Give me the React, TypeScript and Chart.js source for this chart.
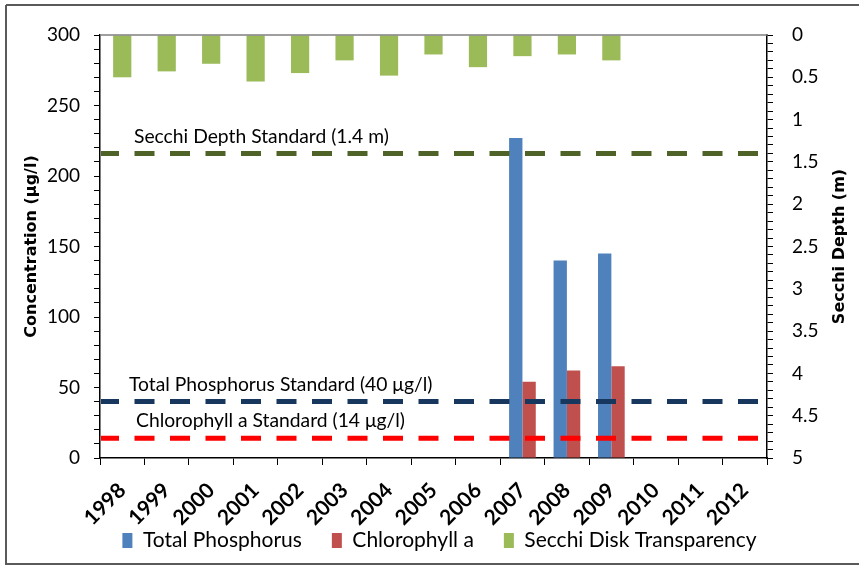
import React, { useEffect, useRef } from 'react';
import { Chart, registerables } from 'chart.js';

Chart.register(...registerables);

const years = ['1998', '1999', '2000', '2001', '2002', '2003', '2004', '2005', '2006', '2007', '2008', '2009', '2010', '2011', '2012'];
const totalPhosphorus = [null, null, null, null, null, null, null, null, null, 227, 140, 145, null, null, null];
const chlorophyllA = [null, null, null, null, null, null, null, null, null, 54, 62, 65, null, null, null];
const secchiDepth = [0.5, 0.43, 0.34, 0.55, 0.45, 0.3, 0.48, 0.23, 0.38, 0.25, 0.23, 0.3, null, null, null];
const seriesNames = ['Total Phosphorus', 'Chlorophyll a', 'Secchi Disk Transparency'];
const standardLabels = ['Secchi Depth Standard (1.4 m)', 'Total Phosphorus Standard (40 μg/l)', 'Chlorophyll a Standard (14 μg/l)'];
const standardValues = [1.4, 40, 14];
const standardAxisIds = ['y2', 'y', 'y'];
const concentrationRange = [0, 300];
const depthRange = [0, 5];
const leftTitle = 'Concentration (μg/l)';
const rightTitle = 'Secchi Depth (m)';

const standardColors = ['#4f6228', '#17375e', '#ff0000'];
const standardLabelX = [34, 29, 36];
const TEXT_FONT = 'Lato, "Liberation Sans", sans-serif';
const TITLE_FONT = '"DejaVu Sans", Verdana, sans-serif';

const decorPlugin = {
  id: 'decor',
  afterLayout(chart: any) {
    if (chart.legend) {
      chart.legend.left += 10;
      chart.legend.right += 10;
      chart.legend.top -= 28;
      chart.legend.bottom -= 28;
    }
  },
  beforeDraw(chart: any) {
    const { ctx, width, height } = chart;
    ctx.save();
    ctx.fillStyle = '#ffffff';
    ctx.fillRect(0, 0, width, height);
    ctx.strokeStyle = '#5a5a5a';
    ctx.lineWidth = 2;
    ctx.beginPath();
    ctx.moveTo(6, 5);
    ctx.lineTo(width, 5);
    ctx.moveTo(6, 5);
    ctx.lineTo(6, 564);
    ctx.lineTo(width, 564);
    ctx.stroke();
    ctx.restore();
  },
  afterDatasetsDraw(chart: any) {
    const { ctx, chartArea } = chart;
    standardValues.forEach((v, i) => {
      const scale = chart.scales[standardAxisIds[i]];
      const y = scale.getPixelForValue(v);
      ctx.save();
      ctx.strokeStyle = standardColors[i];
      ctx.lineWidth = 5;
      ctx.setLineDash([20, 15.5]);
      ctx.lineDashOffset = 2;
      ctx.beginPath();
      ctx.moveTo(chartArea.left + 1, y);
      ctx.lineTo(chartArea.right - 8, y);
      ctx.stroke();
      ctx.setLineDash([]);
      ctx.font = '19.3px ' + TEXT_FONT;
      ctx.fillStyle = '#000';
      ctx.textBaseline = 'middle';
      ctx.textAlign = 'left';
      ctx.fillText(standardLabels[i], chartArea.left + standardLabelX[i], y - 17);
      ctx.restore();
    });
  },
  afterDraw(chart: any) {
    const { ctx, chartArea } = chart;
    ctx.save();
    ctx.strokeStyle = '#7f7f7f';
    ctx.lineWidth = 1.5;
    ctx.beginPath();
    ctx.moveTo(chartArea.left, chartArea.top);
    ctx.lineTo(chartArea.right, chartArea.top);
    ctx.stroke();
    ctx.translate(840, (chartArea.top + chartArea.bottom) / 2);
    ctx.rotate(-Math.PI / 2);
    ctx.font = 'bold 16px ' + TITLE_FONT;
    ctx.fillStyle = '#000';
    ctx.textAlign = 'center';
    ctx.textBaseline = 'middle';
    ctx.fillText(rightTitle, 0, 0);
    ctx.restore();
  },
};

export default function App() {
  const ref = useRef<HTMLCanvasElement>(null);
  useEffect(() => {
    document.body.style.margin = '0';
    const canvas = ref.current as HTMLCanvasElement;
    const chart = new Chart(canvas, {
      type: 'bar',
      data: {
        labels: years,
        datasets: [
          {
            label: seriesNames[0],
            data: totalPhosphorus,
            backgroundColor: '#4f81bd',
            yAxisID: 'y',
            categoryPercentage: 0.6,
            barPercentage: 1,
          },
          {
            label: seriesNames[1],
            data: chlorophyllA,
            backgroundColor: '#c0504d',
            yAxisID: 'y',
            categoryPercentage: 0.6,
            barPercentage: 1,
          },
          {
            label: seriesNames[2],
            data: secchiDepth,
            backgroundColor: '#9bbb59',
            yAxisID: 'y2',
            grouped: false,
            categoryPercentage: 0.41,
            barPercentage: 1,
          },
        ],
      } as any,
      options: {
        responsive: false,
        animation: false,
        devicePixelRatio: 1,
        layout: { padding: { left: 8, right: 8, top: 35, bottom: -23 } },
        plugins: {
          legend: {
            position: 'bottom',
            labels: {
              boxWidth: 10,
              boxHeight: 15,
              padding: 30,
              color: '#000',
              font: { family: TEXT_FONT, size: 21 },
            },
          },
          tooltip: { enabled: false },
        },
        scales: {
          x: {
            type: 'category',
            offset: true,
            grid: { offset: true, drawOnChartArea: false, drawTicks: true, tickLength: 7, color: '#000' },
            border: { color: '#000', width: 1.5 },
            ticks: {
              autoSkip: false,
              minRotation: 45,
              maxRotation: 45,
              padding: 13,
              color: '#000',
              font: { family: TEXT_FONT, size: 21, weight: 'bold' },
            },
            afterFit(s: any) {
              s.height = 70;
            },
          },
          y: {
            position: 'left',
            min: concentrationRange[0],
            max: concentrationRange[1],
            grid: { drawOnChartArea: false, drawTicks: true, tickLength: 6, color: '#000' },
            border: { color: '#000', width: 1.5 },
            ticks: {
              stepSize: 10,
              autoSkip: false,
              padding: 14,
              color: '#000',
              font: { family: TEXT_FONT, size: 19 },
              callback: (v: any) => (Math.round(v) % 50 === 0 ? String(Math.round(v)) : ''),
            },
            title: {
              display: true,
              text: leftTitle,
              color: '#000',
              font: { family: TITLE_FONT, size: 16, weight: 'bold' },
              padding: { top: 14, bottom: 0 },
            },
            afterFit(s: any) {
              s.width = 92;
            },
          },
          y2: {
            position: 'right',
            reverse: true,
            min: depthRange[0],
            max: depthRange[1],
            grid: { drawOnChartArea: false, drawTicks: true, tickLength: 6, color: '#000' },
            border: { color: '#000', width: 1.5 },
            ticks: {
              stepSize: 0.1,
              autoSkip: false,
              padding: 19,
              color: '#000',
              font: { family: TEXT_FONT, size: 19 },
              callback: (v: any) => {
                const t = Math.round(v * 10);
                return t % 5 === 0 ? String(t / 10) : '';
              },
            },
            afterFit(s: any) {
              s.width = 84;
            },
          },
        },
      } as any,
      plugins: [decorPlugin],
    });
    return () => chart.destroy();
  }, []);
  return (
    <div style={{ width: 859, height: 566, position: 'relative' }}>
      <canvas ref={ref} width={859} height={566} style={{ display: 'block' }} />
    </div>
  );
}
